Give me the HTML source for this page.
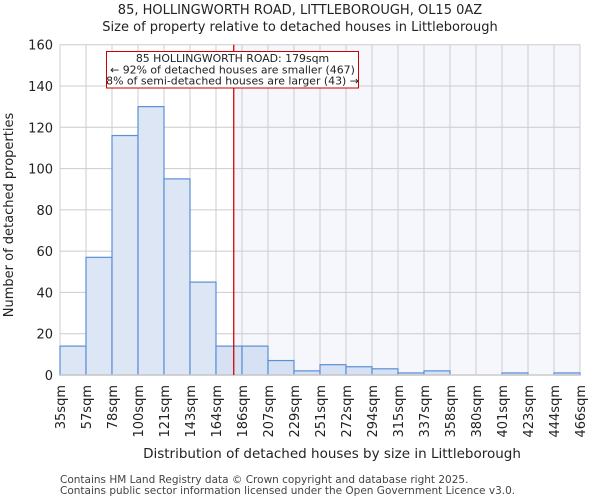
<!DOCTYPE html>
<html><head><meta charset="utf-8"><style>
body{margin:0;background:#fff}
svg{display:block;font-family:"DejaVu Sans","Liberation Sans",sans-serif}
</style></head><body>
<svg id="c" width="600" height="500" viewBox="0 0 600 500">
<text x="300" y="14" text-anchor="middle" font-size="13" fill="#222">85, HOLLINGWORTH ROAD, LITTLEBOROUGH, OL15 0AZ</text>
<text x="300" y="31" text-anchor="middle" font-size="13" fill="#222">Size of property relative to detached houses in Littleborough</text>
<g id="plot"></g>
<text x="332" y="458" text-anchor="middle" font-size="13.5" fill="#222">Distribution of detached houses by size in Littleborough</text>
<text transform="translate(13,215) rotate(-90)" text-anchor="middle" font-size="13" fill="#222">Number of detached properties</text>
<text x="60" y="483" font-size="10.5" fill="#444">Contains HM Land Registry data © Crown copyright and database right 2025.</text>
<text x="60" y="494" font-size="10.5" fill="#444">Contains public sector information licensed under the Open Government Licence v3.0.</text>
</svg>
<script>
const categories=["35sqm","57sqm","78sqm","100sqm","121sqm","143sqm","164sqm","186sqm","207sqm","229sqm","251sqm","272sqm","294sqm","315sqm","337sqm","358sqm","380sqm","401sqm","423sqm","444sqm","466sqm"];
const counts=[14,57,116,130,95,45,14,14,7,2,5,4,3,1,2,0,0,1,0,1];
const yTicks=[0,20,40,60,80,100,120,140,160];
const markerValue=179;
const NS="http://www.w3.org/2000/svg";
const g=document.getElementById("plot");
const X0=60,X1=580,Y0=375,Y1=44.7,YMAX=160;
const nb=counts.length,bw=(X1-X0)/nb;
const xi=i=>X0+i*bw;
const y=v=>Y0-(v/YMAX)*(Y0-Y1);
const xv=v=>{const lo=35,hi=466;return X0+(v-lo)/((hi-lo))*(X1-X0);};
function el(t,a){const e=document.createElementNS(NS,t);for(const k in a)e.setAttribute(k,a[k]);g.appendChild(e);return e;}
const mx=xv(markerValue);
let e=el("rect",{x:mx,y:Y1,width:X1-mx,height:Y0-Y1,fill:"#f5f7fd"});


for(const t of yTicks){
 e=el("line",{x1:X0,x2:X1,y1:y(t),y2:y(t),stroke:"#cccccc","stroke-width":1});
 
 
 e=el("text",{x:X0-7,y:y(t)+5,"text-anchor":"end","font-size":13,fill:"#222"});
 e.textContent=t;
 
 
}
for(let i=0;i<=nb;i++){
 e=el("line",{x1:xi(i),x2:xi(i),y1:Y1,y2:Y0,stroke:"#cccccc","stroke-width":1});
 
 
}
counts.forEach((c,i)=>{
 if(c<=0)return;
 e=el("rect",{x:xi(i),y:y(c),width:bw,height:Y0-y(c),fill:mx>xi(i)+bw?"#dce6f5":"#d6e1f3",stroke:"#5b8fd6","stroke-width":1.2});
 
 
});
e=el("line",{x1:X0,x2:X1,y1:Y0,y2:Y0,stroke:"#cccccc","stroke-width":1.5});


categories.forEach((c,i)=>{
 e=el("text",{transform:`translate(${xi(i)+5},385) rotate(-90)`,"text-anchor":"end","font-size":13,fill:"#222"});
 e.textContent=c;
 
 
});
e=el("line",{x1:mx,x2:mx,y1:Y1,y2:Y0,stroke:"#dd0000","stroke-width":1.3});


e=el("rect",{x:106.5,y:51.5,width:252,height:36.5,fill:"#fff",stroke:"#cc0000","stroke-width":1});


const lines=["85 HOLLINGWORTH ROAD: 179sqm","← 92% of detached houses are smaller (467)","8% of semi-detached houses are larger (43) →"];
lines.forEach((l,k)=>{
 e=el("text",{x:232.5,y:62+k*11.3,"text-anchor":"middle","font-size":10.9,fill:"#222"});
 e.textContent=l;
 
 
});
</script>
</body></html>
